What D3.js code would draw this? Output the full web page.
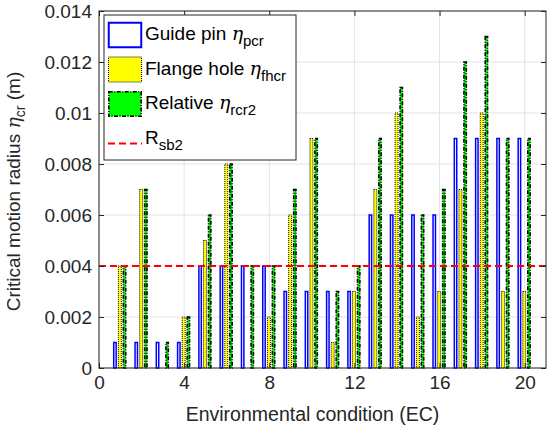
<!DOCTYPE html>
<html>
<head>
<meta charset="utf-8">
<script src="https://cdn.jsdelivr.net/npm/d3@7"></script>
<style>
  body { margin: 0; background: #fff; }
  text { font-family: "Liberation Sans", Arial, sans-serif; }
</style>
</head>
<body>
<div id="chart"></div>
<script>
// environmental conditions
const ec = [1, 2, 3, 4, 5, 6, 7, 8, 9, 10, 11, 12, 13, 14, 15, 16, 17, 18, 19, 20];

// critical motion radius (m)
const guidePin   = [0.001, 0.001, 0.001, 0.001, 0.004, 0.004, 0.004, 0.004, 0.003, 0.003, 0.003, 0.003, 0.006, 0.006, 0.006, 0.006, 0.009, 0.009, 0.009, 0.009];
const flangeHole = [0.004, 0.007, 0, 0.002, 0.005, 0.008, 0, 0.002, 0.006, 0.009, 0.001, 0.003, 0.007, 0.010, 0.002, 0.003, 0.007, 0.010, 0.003, 0.003];
const relative   = [0.004, 0.007, 0.001, 0.002, 0.006, 0.008, 0.004, 0.004, 0.007, 0.009, 0.003, 0.004, 0.009, 0.011, 0.006, 0.007, 0.012, 0.013, 0.009, 0.009];
const rsb2 = 0.004;

const xTicks = [0, 4, 8, 12, 16, 20];
const yTicks = [0, 0.002, 0.004, 0.006, 0.008, 0.01, 0.012, 0.014];
const yTickLabels = ["0", "0.002", "0.004", "0.006", "0.008", "0.01", "0.012", "0.014"];

const W = 547, H = 434;
const margin = {top: 11, right: 1, bottom: 66, left: 99};
const width = W - margin.left - margin.right,
      height = H - margin.top - margin.bottom;

const svg = d3.select("#chart")
  .append("svg")
  .attr("width", W)
  .attr("height", H)
    .append("g")
    .attr("transform", `translate(${margin.left},${margin.top})`);

const xScale = d3.scaleLinear().domain([0, 21]).range([0, width]);
const yScale = d3.scaleLinear().domain([0, 0.014]).range([height, 0]);

const axisColor = "#262626";
const fs = "19px";

// grid
svg.append("g").selectAll("line")
  .data(xTicks).enter().append("line")
  .attr("x1", d => xScale(d)).attr("x2", d => xScale(d))
  .attr("y1", 0).attr("y2", height)
  .attr("stroke", "#e3e3e3").attr("stroke-width", 1);
svg.append("g").selectAll("line")
  .data(yTicks).enter().append("line")
  .attr("x1", 0).attr("x2", width)
  .attr("y1", d => yScale(d)).attr("y2", d => yScale(d))
  .attr("stroke", "#e3e3e3").attr("stroke-width", 1);

// bars
const bw = 0.185;
const series = [
  {name: "guide", values: guidePin, off: -0.25, fill: "#ffffff", stroke: "#0000ff", sw: 1.5, dash: null},
  {name: "flange", values: flangeHole, off: -0.02, fill: "#ffff00", stroke: "#000000", sw: 1, dash: "1,1"},
  {name: "relative", values: relative, off: 0.2, fill: "#00ff00", stroke: "#000000", sw: 1.6, dash: "4,1.5,1,1.5"}
];

series.forEach(s => {
  svg.append("g")
    .selectAll("rect")
    .data(ec.map((e, i) => ({e: e, v: s.values[i]})).filter(d => d.v > 0))
    .enter()
    .append("rect")
    .attr("x", d => xScale(d.e + s.off - bw / 2) + s.sw / 2)
    .attr("y", d => yScale(d.v))
    .attr("width", xScale(bw) - s.sw)
    .attr("height", d => yScale(0) - yScale(d.v))
    .attr("fill", s.fill)
    .attr("stroke", s.stroke)
    .attr("stroke-width", s.sw)
    .attr("stroke-dasharray", s.dash);
});

// R_sb2 line
svg.append("line")
  .attr("x1", 0).attr("x2", width)
  .attr("y1", yScale(rsb2)).attr("y2", yScale(rsb2))
  .attr("stroke", "#ff0000").attr("stroke-width", 2)
  .attr("stroke-dasharray", "7,4");

// axes
const xAxis = d3.axisBottom(xScale).tickValues(xTicks).tickSize(-5).tickPadding(8);
const yAxis = d3.axisLeft(yScale).tickValues(yTicks).tickFormat((d, i) => yTickLabels[i]).tickSize(-5).tickPadding(7);

svg.append("g").attr("transform", `translate(0,${height})`).call(xAxis);
svg.append("g").call(yAxis);
svg.append("g").call(d3.axisTop(xScale).tickValues(xTicks).tickSize(-5).tickFormat(""));
svg.append("g").attr("transform", `translate(${width},0)`)
  .call(d3.axisRight(yScale).tickValues(yTicks).tickSize(-5).tickFormat(""));

svg.selectAll(".domain").remove();
svg.selectAll(".tick line").attr("stroke", axisColor);
svg.selectAll(".tick text").attr("fill", axisColor).style("font-size", fs)
  .style("font-family", "'Liberation Sans', Arial, sans-serif");

svg.append("rect")
  .attr("x", 0).attr("y", 0).attr("width", width).attr("height", height)
  .attr("fill", "none").attr("stroke", axisColor).attr("stroke-width", 1);

// axis labels
svg.append("text")
  .attr("text-anchor", "middle")
  .attr("x", width / 2 - 10)
  .attr("y", height + 53)
  .attr("fill", axisColor)
  .style("font-size", "19.5px")
  .text("Environmental condition (EC)");

const yl = svg.append("text")
  .attr("text-anchor", "middle")
  .attr("transform", `translate(${-79},${height / 2 + 2}) rotate(-90)`)
  .attr("fill", axisColor)
  .style("font-size", fs);
yl.append("tspan").text("Critical motion radius ");
yl.append("tspan").style("font-family", "'DejaVu Serif', serif").style("font-style", "italic").text("η");
yl.append("tspan").attr("dy", 5).style("font-size", "14px").text("cr");
yl.append("tspan").attr("dy", -5).text(" (m)");

// legend
const legend = svg.append("g").attr("transform", `translate(${104 - margin.left},${15 - margin.top})`);
legend.append("rect").attr("x", 0).attr("y", 0).attr("width", 192).attr("height", 145)
  .attr("fill", "#ffffff").attr("stroke", axisColor).attr("stroke-width", 1);

const items = [
  {label: "Guide pin ", sub: "pcr", greek: true},
  {label: "Flange hole ", sub: "fhcr", greek: true},
  {label: "Relative ", sub: "rcr2", greek: true},
  {label: "R", sub: "sb2", greek: false}
];

items.forEach((it, i) => {
  const y0 = 7 + i * 34.5;
  if (i < 3) {
    const s = series[i];
    legend.append("rect")
      .attr("x", 4 + s.sw / 2).attr("y", y0 + s.sw / 2)
      .attr("width", 34 - s.sw).attr("height", 26 - s.sw)
      .attr("fill", s.fill).attr("stroke", s.stroke)
      .attr("stroke-width", i === 0 ? 2 : s.sw)
      .attr("stroke-dasharray", s.dash);
  } else {
    legend.append("line")
      .attr("x1", 4).attr("x2", 38).attr("y1", y0 + 18).attr("y2", y0 + 18)
      .attr("stroke", "#ff0000").attr("stroke-width", 2).attr("stroke-dasharray", "7,4");
  }
  const t = legend.append("text")
    .attr("x", 41).attr("y", y0 + 18)
    .attr("fill", "#000")
    .style("font-size", fs);
  t.append("tspan").text(it.label);
  if (it.greek) {
    t.append("tspan").style("font-family", "'DejaVu Serif', serif").style("font-style", "italic").text("η");
  }
  t.append("tspan").attr("dy", 6).style("font-size", "15px").text(it.sub);
});
</script>
</body>
</html>
